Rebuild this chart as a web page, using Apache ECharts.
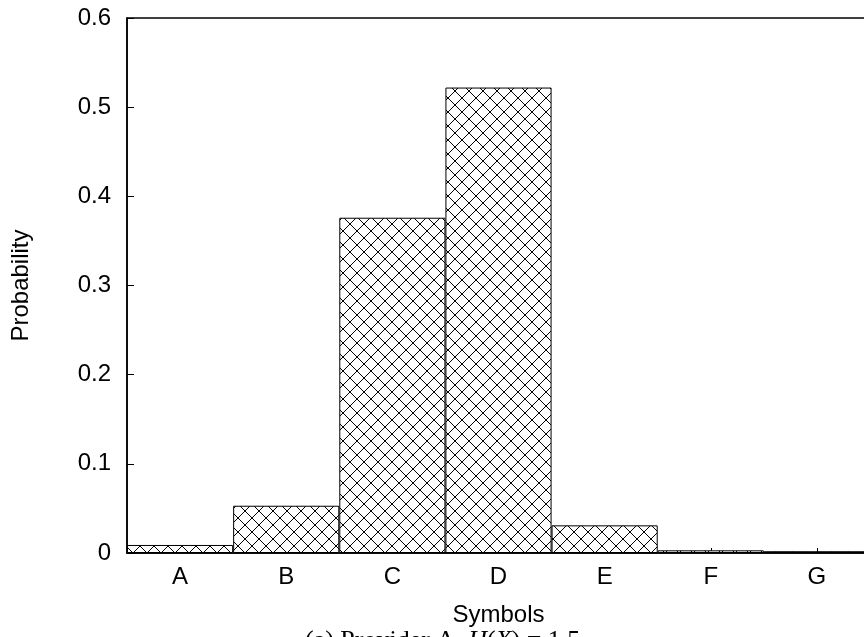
<!DOCTYPE html>
<html><head><meta charset="utf-8">
<script src="https://cdn.jsdelivr.net/npm/echarts@6/dist/echarts.min.js"></script>
<style>html,body{margin:0;padding:0;background:#fff;overflow:hidden;width:864px;height:637px}#c{width:876px;height:637px}</style>
</head><body><div id="c"></div>
<script>
const categories = ['A','B','C','D','E','F','G'];
const probabilities = [0.009, 0.053, 0.376, 0.522, 0.031, 0.003, 0.002];
const yTicks = [0, 0.1, 0.2, 0.3, 0.4, 0.5, 0.6];
const xTitle = 'Symbols';
const yTitle = 'Probability';
const captionParts = ['(a) Provider A, ', 'H', '(', 'X', ') = 1.5'];

function hatch(){
  const s = 14;
  const cv = document.createElement('canvas');
  cv.width = s; cv.height = s;
  const g = cv.getContext('2d');
  g.fillStyle = '#fff'; g.fillRect(0,0,s,s);
  g.strokeStyle = '#000'; g.lineWidth = 1;
  g.beginPath();
  g.moveTo(-1,-1); g.lineTo(s+1,s+1);
  g.moveTo(s+1,-1); g.lineTo(-1,s+1);
  g.stroke();
  return cv;
}
const chart = echarts.init(document.getElementById('c'), null, {renderer:'canvas'});
chart.setOption({
  animation:false,
  backgroundColor:'#fff',
  grid:{left:127, top:18, width:743, height:535, show:true, borderColor:'#000', borderWidth:1.5, containLabel:false},
  xAxis:{type:'category', data:categories, name:xTitle, nameLocation:'middle', nameGap:50,
    nameTextStyle:{fontFamily:'Liberation Sans', fontSize:24, color:'#000'},
    axisLine:{lineStyle:{color:'#000', width:1.5}},
    axisTick:{show:true, inside:true, alignWithLabel:true, length:5, lineStyle:{color:'#000'}},
    axisLabel:{fontFamily:'Liberation Sans', fontSize:24, color:'#000', margin:12}},
  yAxis:{type:'value', min:0, max:0.6, interval:0.1, name:yTitle, nameLocation:'middle', nameGap:94,
    nameTextStyle:{fontFamily:'Liberation Sans', fontSize:24, color:'#000'},
    splitLine:{show:false},
    axisLine:{show:true, lineStyle:{color:'#000', width:1.5}},
    axisTick:{show:true, inside:true, length:7, lineStyle:{color:'#000'}},
    axisLabel:{fontFamily:'Liberation Sans', fontSize:24, color:'#000', margin:16,
      formatter: v => { const t = yTicks.find(x => Math.abs(x-v)<1e-9); return t===0?'0':String(t); }}},
  series:[{type:'bar', data:probabilities, barCategoryGap:'0%',
    itemStyle:{color:{image:hatch(), repeat:'repeat'}, borderColor:'#000', borderWidth:1}}],
  graphic:[{type:'text', left:305, top:628,
    style:{text:'{n|'+captionParts[0]+'}{i|'+captionParts[1]+'}{n|'+captionParts[2]+'}{i|'+captionParts[3]+'}{n|'+captionParts[4]+'}',
      rich:{n:{fontFamily:'Liberation Serif', fontSize:26, fill:'#000'},
            i:{fontFamily:'Liberation Serif', fontStyle:'italic', fontSize:26, fill:'#000'}},
      font:'26px "Liberation Serif"', fill:'#000'}}]
});
</script></body></html>
